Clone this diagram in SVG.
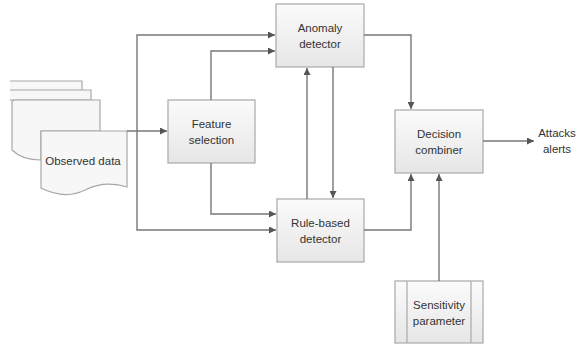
<svg xmlns="http://www.w3.org/2000/svg" width="581" height="345" viewBox="0 0 581 345">
  <defs>
    <linearGradient id="boxFill" x1="0" y1="0" x2="0" y2="1">
      <stop offset="0" stop-color="#fbfbfb"/>
      <stop offset="1" stop-color="#e6e6e6"/>
    </linearGradient>
    <marker id="arrow" viewBox="0 0 10 10" refX="10" refY="5" markerWidth="7" markerHeight="7" orient="auto" markerUnits="userSpaceOnUse">
      <path d="M0,0 L10,5 L0,10 z" fill="#555"/>
    </marker>
  </defs>
  <style>
    .box { fill: url(#boxFill); stroke: #a8a8a8; stroke-width: 1.2; }
    .doc { fill: #f7f7f7; stroke: #a8a8a8; stroke-width: 1.2; }
    .wire { fill: none; stroke: #777; stroke-width: 1.4; }
    .lbl { font-family: "Liberation Sans", Arial, sans-serif; font-size: 11.5px; fill: #333; text-anchor: middle; }
  </style>
  <rect width="581" height="345" fill="#ffffff"/>

  <!-- Stack of data documents, the back sheets run off the left edge -->
  <g id="observed-data">
    <path class="doc" d="M10,81 H82 V100 H10"/>
    <path class="doc" d="M10,90 H91 V100 H10"/>
    <path class="doc" d="M15,100 H100 V131 H41 V160 Q22,160 12,150 V103 Q12,100 15,100 Z"/>
    <path class="doc" d="M41,131 H127 V187 Q105,180 85,190 T41,188 Z"/>
    <text class="lbl" x="83" y="165">Observed data</text>
  </g>

  <g id="feature-selection">
    <rect class="box" x="168" y="100" width="87" height="63"/>
    <text class="lbl" x="211.5" y="128">Feature</text>
    <text class="lbl" x="211.5" y="144">selection</text>
  </g>

  <g id="anomaly-detector">
    <rect class="box" x="276" y="4" width="88" height="63"/>
    <text class="lbl" x="320" y="32">Anomaly</text>
    <text class="lbl" x="320" y="48">detector</text>
  </g>

  <g id="rule-based-detector">
    <rect class="box" x="277" y="199" width="87" height="63"/>
    <text class="lbl" x="320.5" y="227">Rule-based</text>
    <text class="lbl" x="320.5" y="243">detector</text>
  </g>

  <g id="decision-combiner">
    <rect class="box" x="395" y="110" width="88" height="63"/>
    <text class="lbl" x="439" y="138">Decision</text>
    <text class="lbl" x="439" y="154">combiner</text>
  </g>

  <g id="sensitivity-parameter">
    <rect class="box" x="395" y="281" width="88" height="62"/>
    <line x1="407" y1="281" x2="407" y2="343" stroke="#a8a8a8" stroke-width="1.2"/>
    <line x1="471" y1="281" x2="471" y2="343" stroke="#a8a8a8" stroke-width="1.2"/>
    <text class="lbl" x="439" y="309">Sensitivity</text>
    <text class="lbl" x="439" y="325">parameter</text>
  </g>

  <g id="attacks-alerts">
    <text class="lbl" x="557" y="137">Attacks</text>
    <text class="lbl" x="557" y="153">alerts</text>
  </g>

  <g id="connectors">
    <!-- data into feature selection -->
    <path class="wire" d="M127,131 H167" marker-end="url(#arrow)"/>
    <!-- raw data bypass to both detectors -->
    <path class="wire" d="M137,131 V35 H275" marker-end="url(#arrow)"/>
    <path class="wire" d="M137,131 V230 H276" marker-end="url(#arrow)"/>
    <!-- selected features to both detectors -->
    <path class="wire" d="M211,100 V51 H275" marker-end="url(#arrow)"/>
    <path class="wire" d="M211,163 V214 H276" marker-end="url(#arrow)"/>
    <!-- exchange between detectors -->
    <path class="wire" d="M307,199 V68" marker-end="url(#arrow)"/>
    <path class="wire" d="M333,67 V198" marker-end="url(#arrow)"/>
    <!-- detectors to combiner -->
    <path class="wire" d="M364,35 H411 V109" marker-end="url(#arrow)"/>
    <path class="wire" d="M364,230 H411 V174" marker-end="url(#arrow)"/>
    <!-- sensitivity to combiner -->
    <path class="wire" d="M439,281 V174" marker-end="url(#arrow)"/>
    <!-- output -->
    <path class="wire" d="M483,141 H534" marker-end="url(#arrow)"/>
  </g>
</svg>
